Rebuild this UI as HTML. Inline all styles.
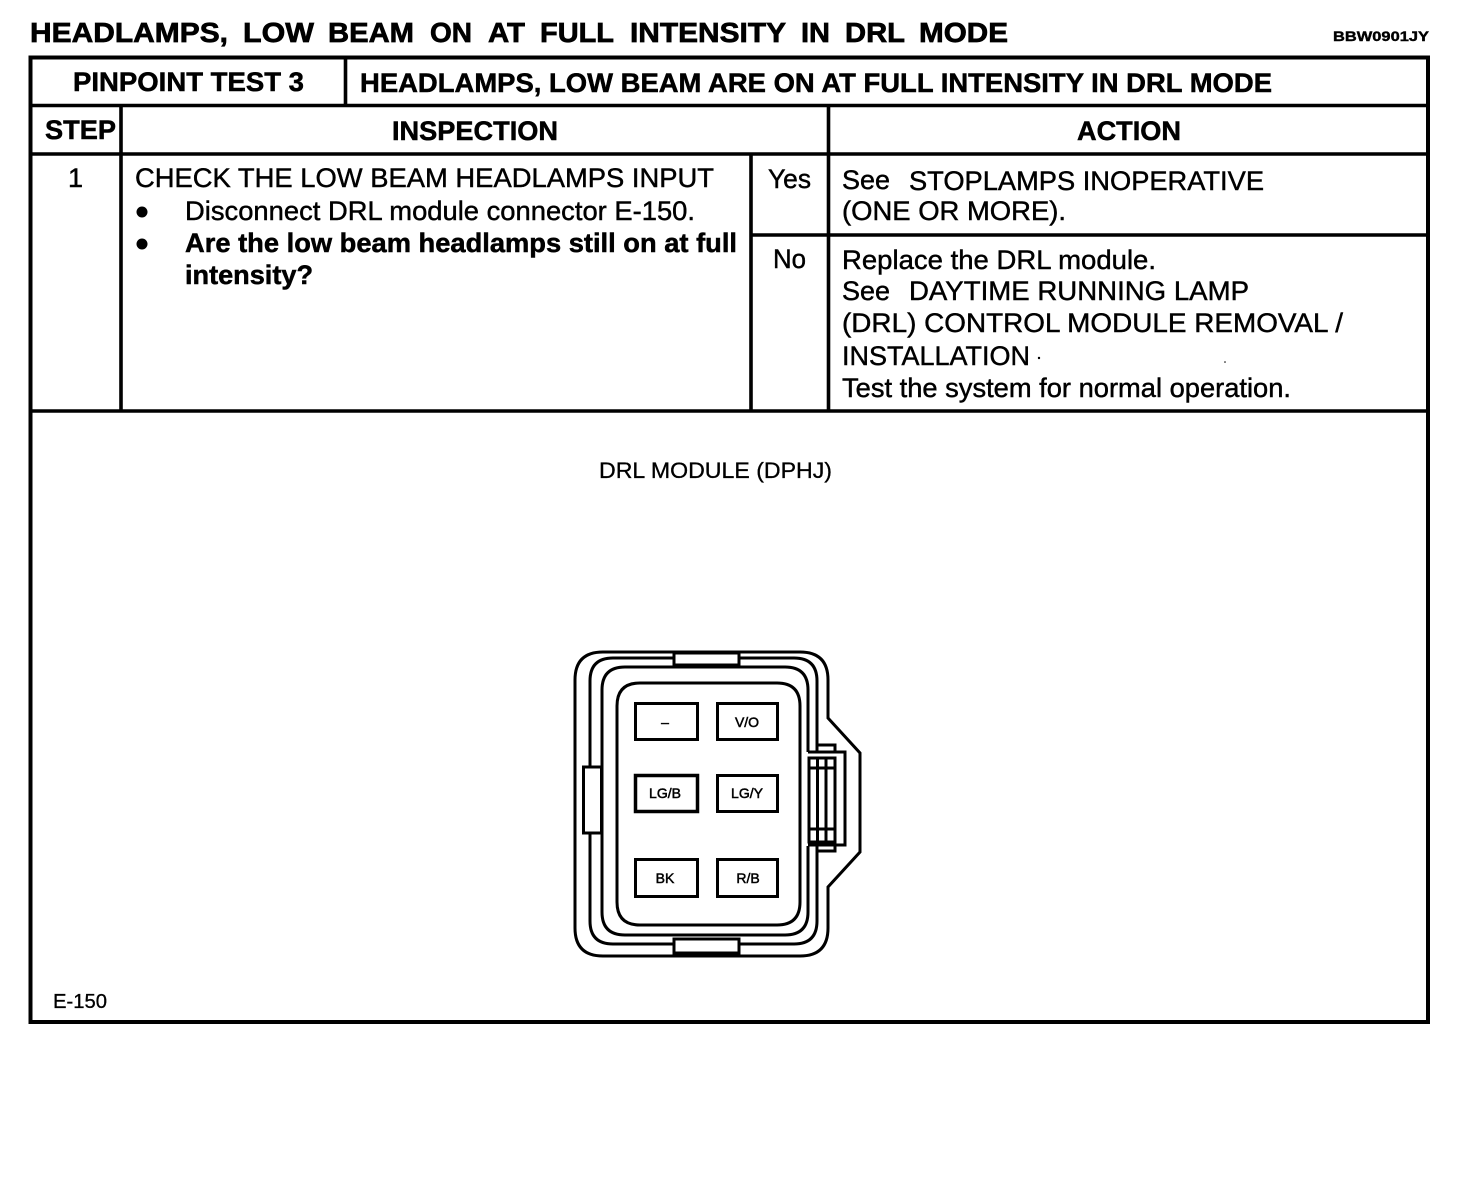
<!DOCTYPE html>
<html lang="en">
<head>
<meta charset="utf-8">
<title>Pinpoint Test 3</title>
<style>
html,body{margin:0;padding:0;background:#fff;}
svg{display:block;}
text{font-family:"Liberation Sans",Arial,sans-serif;fill:#000;}
.r{font-size:27px;stroke:#000;stroke-width:.45px;}
.b{font-size:27px;font-weight:bold;stroke:#000;stroke-width:.5px;}
.h{font-size:28px;font-weight:bold;stroke:#000;stroke-width:.7px;}
.l{stroke:#000;stroke-width:3.6px;fill:none;}
.c{stroke:#000;stroke-width:3px;fill:none;}
.p{stroke:#000;stroke-width:3px;fill:#fff;}
.t{font-size:14px;text-anchor:middle;stroke:#000;stroke-width:.5px;}
</style>
</head>
<body>
<svg xmlns="http://www.w3.org/2000/svg" width="1472" height="1178" viewBox="0 0 1472 1178">
<rect width="1472" height="1178" fill="#fff"/>

<!-- Title -->
<text x="30" y="42" class="h" textLength="198" lengthAdjust="spacingAndGlyphs">HEADLAMPS,</text>
<text x="243" y="42" class="h" textLength="71" lengthAdjust="spacingAndGlyphs">LOW</text>
<text x="328" y="42" class="h" textLength="86" lengthAdjust="spacingAndGlyphs">BEAM</text>
<text x="430" y="42" class="h" textLength="42" lengthAdjust="spacingAndGlyphs">ON</text>
<text x="488" y="42" class="h" textLength="37" lengthAdjust="spacingAndGlyphs">AT</text>
<text x="540" y="42" class="h" textLength="74" lengthAdjust="spacingAndGlyphs">FULL</text>
<text x="630" y="42" class="h" textLength="156" lengthAdjust="spacingAndGlyphs">INTENSITY</text>
<text x="801" y="42" class="h" textLength="29" lengthAdjust="spacingAndGlyphs">IN</text>
<text x="845" y="42" class="h" textLength="60" lengthAdjust="spacingAndGlyphs">DRL</text>
<text x="919" y="42" class="h" textLength="89" lengthAdjust="spacingAndGlyphs">MODE</text>
<text x="1333" y="41" style="font-size:14px;font-weight:bold;stroke:#000;stroke-width:.4px" textLength="96" lengthAdjust="spacingAndGlyphs">BBW0901JY</text>

<!-- Table lines -->
<rect x="30.500" y="57.500" width="1397.500" height="964.500" class="l" style="stroke-width:4px"/>
<path class="l" d="M30 105.500H1429M30 154H1429M30 411H1429M751 235H1429"/>
<path class="l" d="M345.500 57V105M121 105V411M828.500 105V411M751 154V411"/>

<!-- Header -->
<text x="73" y="91" class="b" textLength="231" lengthAdjust="spacingAndGlyphs">PINPOINT TEST 3</text>
<text x="360" y="92" class="b" textLength="912" lengthAdjust="spacingAndGlyphs">HEADLAMPS, LOW BEAM ARE ON AT FULL INTENSITY IN DRL MODE</text>
<text x="45" y="139" class="b" textLength="71" lengthAdjust="spacingAndGlyphs">STEP</text>
<text x="392" y="140" class="b" textLength="166" lengthAdjust="spacingAndGlyphs">INSPECTION</text>
<text x="1077" y="140" class="b" textLength="104" lengthAdjust="spacingAndGlyphs">ACTION</text>

<!-- Step -->
<text x="68" y="187" class="r">1</text>
<text x="135" y="187" class="r" textLength="579" lengthAdjust="spacingAndGlyphs">CHECK THE LOW BEAM HEADLAMPS INPUT</text>
<circle cx="142" cy="212" r="5.500"/>
<text x="185" y="220" class="r" textLength="510" lengthAdjust="spacingAndGlyphs">Disconnect DRL module connector E-150.</text>
<circle cx="142" cy="244" r="5.500"/>
<text x="185" y="252" class="b" textLength="552" lengthAdjust="spacingAndGlyphs">Are the low beam headlamps still on at full</text>
<text x="185" y="284" class="b" textLength="128" lengthAdjust="spacingAndGlyphs">intensity?</text>

<!-- Yes / No -->
<text x="768" y="188" class="r" textLength="43" lengthAdjust="spacingAndGlyphs">Yes</text>
<text x="773" y="268" class="r" textLength="33" lengthAdjust="spacingAndGlyphs">No</text>

<!-- Action -->
<text x="842" y="189" class="r" textLength="48" lengthAdjust="spacingAndGlyphs">See</text>
<text x="909" y="190" class="r" textLength="355" lengthAdjust="spacingAndGlyphs">STOPLAMPS INOPERATIVE</text>
<text x="842" y="220" class="r" textLength="224" lengthAdjust="spacingAndGlyphs">(ONE OR MORE).</text>
<text x="842" y="269" class="r" textLength="314" lengthAdjust="spacingAndGlyphs">Replace the DRL module.</text>
<text x="842" y="300" class="r" textLength="48" lengthAdjust="spacingAndGlyphs">See</text>
<text x="909" y="300" class="r" textLength="340" lengthAdjust="spacingAndGlyphs">DAYTIME RUNNING LAMP</text>
<text x="842" y="332" class="r" textLength="501" lengthAdjust="spacingAndGlyphs">(DRL) CONTROL MODULE REMOVAL /</text>
<text x="842" y="365" class="r" textLength="188" lengthAdjust="spacingAndGlyphs">INSTALLATION</text>
<circle cx="1039" cy="358" r="1.200"/>
<circle cx="1225" cy="362" r=".8"/>
<text x="842" y="397" class="r" textLength="449" lengthAdjust="spacingAndGlyphs">Test the system for normal operation.</text>

<!-- Diagram labels -->
<text x="599" y="478" style="font-size:22px;stroke:#000;stroke-width:.3px" textLength="233" lengthAdjust="spacingAndGlyphs">DRL MODULE (DPHJ)</text>
<text x="53" y="1008" style="font-size:20px;stroke:#000;stroke-width:.3px" textLength="54" lengthAdjust="spacingAndGlyphs">E-150</text>

<!-- Connector -->
<g>
  <path class="c" d="M603 652H800Q828 652 828 680V718L860 753V852L828 887V928Q828 956 800 956H603Q575 956 575 928V680Q575 652 603 652Z"/>
  <path class="c" d="M673 658H613Q590 658 590 681V766M590 833V921Q590 944 613 944H673M739 944H794Q817 944 817 921V850M817 745V681Q817 658 794 658H739"/>
  <path class="c" d="M808 752V690Q808 667 785 667H625Q602 667 602 690V912Q602 935 625 935H785Q808 935 808 912V846"/>
  <path class="c" d="M640 683H777Q800 683 800 706V902Q800 925 777 925H640Q617 925 617 902V706Q617 683 640 683Z"/>

  <!-- Tabs -->
  <rect x="583.500" y="767" width="18" height="66" class="p"/>
  <rect x="674" y="653" width="65" height="12" class="p"/>
  <rect x="674" y="939" width="65" height="14" class="p"/>

  <!-- Right latch -->
  <path class="c" d="M808 752H845V845H808M817 752V745H835V752M817 845V851H835V845"/>
  <rect x="809" y="758" width="26" height="84" fill="#fff" stroke="#000" stroke-width="3"/>
  <path class="c" d="M817.500 758V842M826 758V842M809 768H835M809 829H835"/>

  <!-- Pin boxes -->
  <rect x="635.500" y="703.500" width="62" height="36" class="c"/>
  <rect x="717.500" y="703.500" width="60" height="36" class="c"/>
  <rect x="635.500" y="775.500" width="62" height="36" class="c" style="stroke-width:3.500px"/>
  <rect x="717.500" y="775.500" width="60" height="36" class="c"/>
  <rect x="635.500" y="859.500" width="62" height="37" class="c"/>
  <rect x="717.500" y="859.500" width="60" height="37" class="c"/>

  <text x="665" y="727" class="t">–</text>
  <text x="747" y="727" class="t">V/O</text>
  <text x="665" y="798" class="t">LG/B</text>
  <text x="747" y="798" class="t">LG/Y</text>
  <text x="665" y="883" class="t">BK</text>
  <text x="748" y="883" class="t">R/B</text>
</g>
</svg>
</body>
</html>
